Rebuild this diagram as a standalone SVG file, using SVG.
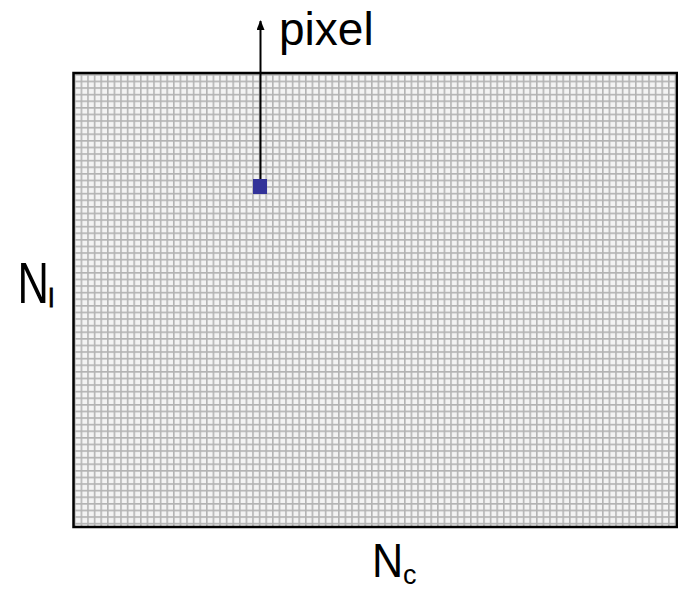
<svg xmlns="http://www.w3.org/2000/svg" width="678" height="590" viewBox="0 0 678 590">
<style>
.lbl{font-family:"Liberation Sans",Arial,sans-serif;fill:#000}
.conn{stroke:#000;stroke-width:2;fill:none}
</style>
<defs>
<pattern id="grid" x="74" y="74" width="6.6" height="6.6" patternUnits="userSpaceOnUse">
<rect width="6.6" height="6.6" fill="#f3f3f3"/>
<path d="M0.8 0V6.6M0 0.8H6.6" stroke="#b3b3b3" stroke-width="1.6"/>
</pattern>
<marker id="arr" markerWidth="10" markerHeight="8" refX="9" refY="4" orient="auto" markerUnits="userSpaceOnUse" viewBox="0 0 10 8">
<path d="M0 0L10 4L0 8Z" fill="#000"/>
</marker>
</defs>
<rect width="678" height="590" fill="#fff"/>
<g id="image">
<rect x="73.5" y="73" width="603.5" height="454" fill="url(#grid)" stroke="#000" stroke-width="2.5"/>
</g>
<g id="connectors">
<line class="conn" x1="260.5" y1="181" x2="260.5" y2="21" marker-end="url(#arr)"/>
</g>
<g id="pixel">
<rect x="253" y="179" width="14" height="15" fill="#333399"/>
<text class="lbl" x="279" y="45" font-size="46">pixel</text>
</g>
<g id="Nl">
<text class="lbl" transform="translate(17.4,303) scale(0.75,1)" font-size="58">N</text>
<text class="lbl" x="48.5" y="307" font-size="25" stroke="#000" stroke-width="0.8">l</text>
</g>
<g id="Nc">
<text class="lbl" transform="translate(372,576.5) scale(0.88,1)" font-size="49">N</text>
<text class="lbl" x="403" y="584" font-size="27">c</text>
</g>
</svg>
